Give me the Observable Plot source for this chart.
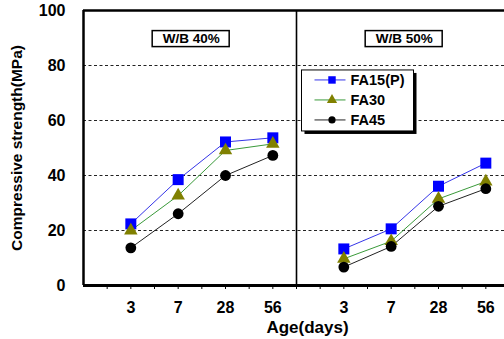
<!DOCTYPE html>
<html><head><meta charset="utf-8">
<script src="https://cdn.jsdelivr.net/npm/d3@7"></script>
<script src="https://cdn.jsdelivr.net/npm/@observablehq/plot@0.6"></script>
<style>
html,body{margin:0;padding:0;background:#fff;}
#chart svg{display:block;}
</style></head><body><div id="chart"></div>
<script>
// ---- data ----
const panels = ["W/B 40%", "W/B 50%"];
const ages = ["3", "7", "28", "56"];
const seriesNames = ["FA15(P)", "FA30", "FA45"];
const fa15_wb40 = [22.4, 38.5, 52.2, 53.7];
const fa30_wb40 = [20.0, 32.7, 49.1, 51.5];
const fa45_wb40 = [13.7, 26.1, 40.0, 47.3];
const fa15_wb50 = [13.3, 20.6, 36.1, 44.5];
const fa30_wb50 = [9.7, 16.1, 31.5, 37.8];
const fa45_wb50 = [6.7, 14.2, 28.8, 35.2];
const yTicks = [0, 20, 40, 60, 80, 100];
const gridValues = [20, 40, 60, 80];
const yTitle = "Compressive strength(MPa)";
const xTitle = "Age(days)";

// ---- styles ----
const styles = {
  "FA15(P)": {line: "#3535e8", fill: "#0000ff", symbol: "square", r: 6.2, lr: 4.2},
  "FA30":    {line: "#3a9a3a", fill: "#808000", symbol: "triangle", r: 5.0, lr: 3.8},
  "FA45":    {line: "#222222", fill: "#000000", symbol: "circle", r: 5.4, lr: 3.6}
};

const SLOTS = 9; // category slots per panel (incl. minor ticks)
const slotOf = (p, i) => p * SLOTS + 2 + 2 * i;
const values = {
  "W/B 40%": [fa15_wb40, fa30_wb40, fa45_wb40],
  "W/B 50%": [fa15_wb50, fa30_wb50, fa45_wb50]
};
const rows = [];
panels.forEach((panel, p) => seriesNames.forEach((s, k) => ages.forEach((age, i) =>
  rows.push({panel, series: s, age, slot: slotOf(p, i), value: values[panel][k][i]}))));
const panelRows = panels.map((panel, p) => ({panel, cx: p * SLOTS + 4.55, ly: 89.6}));
const labelSlots = [];
panels.forEach((panel, p) => ages.forEach((age, i) => labelSlots.push(slotOf(p, i))));
const slotLabel = new Map();
panels.forEach((panel, p) => ages.forEach((age, i) => slotLabel.set(slotOf(p, i), age)));

const font = "'Liberation Sans', Arial, sans-serif";

function legendMark(index, scales, vals, dims) {
  const g = d3.create("svg:g");
  const x0 = scales.x(SLOTS) + 5.5, y0 = scales.y(78.2), w = 112, h = 61;
  g.append("rect").attr("x", x0 + 3).attr("y", y0 + 3).attr("width", w).attr("height", h).attr("fill", "#000");
  g.append("rect").attr("x", x0).attr("y", y0).attr("width", w).attr("height", h)
    .attr("fill", "#fff").attr("stroke", "#000").attr("stroke-width", 1);
  const symbols = {square: d3.symbolSquare, triangle: d3.symbolTriangle, circle: d3.symbolCircle};
  seriesNames.forEach((s, k) => {
    const st = styles[s];
    const yy = y0 + 10 + 20 * k;
    g.append("line").attr("x1", x0 + 13).attr("x2", x0 + 44).attr("y1", yy).attr("y2", yy)
      .attr("stroke", st.line).attr("stroke-width", 1);
    g.append("path").attr("transform", `translate(${x0 + 30.5},${yy})`)
      .attr("d", d3.symbol(symbols[st.symbol], Math.PI * st.lr * st.lr)())
      .attr("fill", st.fill);
    g.append("text").attr("x", x0 + 49).attr("y", yy).attr("dy", "0.36em")
      .attr("text-anchor", "start")
      .attr("font-family", font).attr("font-weight", "bold").attr("font-size", 14.5)
      .attr("fill", "#000").text(s);
  });
  return g.node();
}

const seriesMarks = [];
seriesNames.forEach(s => {
  const st = styles[s];
  const data = rows.filter(d => d.series === s);
  seriesMarks.push(Plot.line(data, {x: "slot", y: "value", z: "panel", stroke: st.line, strokeWidth: 1}));
});
seriesNames.forEach(s => {
  const st = styles[s];
  const data = rows.filter(d => d.series === s);
  seriesMarks.push(Plot.dot(data, {x: "slot", y: "value", symbol: () => st.symbol, fill: st.fill, stroke: "none", r: st.r}));
});

const chart = Plot.plot({
  width: 504, height: 339,
  marginLeft: 83, marginRight: -5, marginTop: 10, marginBottom: 54,
  x: {domain: [0, 2 * SLOTS], label: null},
  y: {domain: [0, 100], label: null},
  symbol: {type: "identity"},
  style: {fontFamily: font, background: "#fff", color: "#000"},
  marks: [
    Plot.ruleY(gridValues, {stroke: "#222", strokeDasharray: "3,2.5", strokeWidth: 1}),
    Plot.ruleY([100], {stroke: "#000", strokeWidth: 2.5}),
    Plot.ruleX([SLOTS], {y1: 0, y2: 100, stroke: "#000", strokeWidth: 1.6}),
    Plot.ruleX([0], {y1: 0, y2: 100, stroke: "#000", strokeWidth: 2.5}),
    Plot.axisX({ticks: d3.range(1, 2 * SLOTS), tickSize: 4, tickFormat: () => "", label: null, strokeWidth: 1}),
    Plot.axisX({ticks: labelSlots, tickSize: 0, tickPadding: 16, tickFormat: d => slotLabel.get(d),
      label: null, fontSize: 16, fontWeight: "bold"}),
    Plot.ruleY([0], {stroke: "#000", strokeWidth: 3}),
    Plot.axisY({ticks: yTicks, tickSize: 0, tickPadding: 18, label: null, fontSize: 16, fontWeight: "bold"}),
    Plot.rect(panelRows, {x1: "cx", x2: "cx", y1: "ly", y2: "ly",
      insetLeft: -38.5, insetRight: -38.5, insetTop: -8, insetBottom: -8,
      fill: "#fff", stroke: "#000", strokeWidth: 1.5}),
    Plot.text(panelRows, {x: "cx", y: "ly", text: "panel", fontSize: 13.5, fontWeight: "bold", fill: "#000"}),
    ...seriesMarks,
    legendMark,
    Plot.text([yTitle], {text: d => d, frameAnchor: "left", dx: -66, rotate: -90, textAnchor: "middle",
      lineAnchor: "middle", fontSize: 15.5, fontWeight: "bold", fill: "#000"}),
    Plot.text([xTitle], {text: d => d, frameAnchor: "bottom", dx: 11, dy: 42, textAnchor: "middle",
      lineAnchor: "middle", fontSize: 17, fontWeight: "bold", fill: "#000"})
  ]
});
document.getElementById("chart").appendChild(chart);
</script>
</body></html>
